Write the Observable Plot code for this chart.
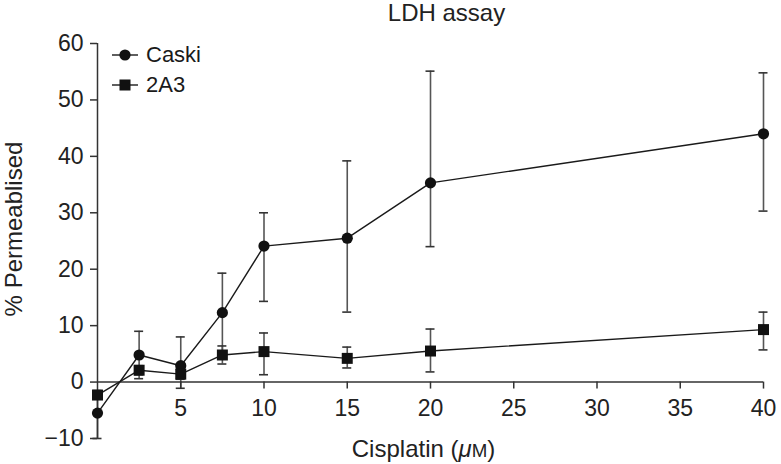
<!DOCTYPE html>
<html><head><meta charset="utf-8">
<script src="https://cdn.jsdelivr.net/npm/d3@7"></script>
<script src="https://cdn.jsdelivr.net/npm/@observablehq/plot@0.6"></script>
<style>
html,body{margin:0;padding:0;background:#fff;}
#chart{position:relative;width:781px;height:464px;font-family:"Liberation Sans",Arial,sans-serif;}
#legend{position:absolute;left:112px;top:40px;font-size:22px;color:#1a1a1a;}
.row{display:flex;align-items:center;height:30px;}
.row svg{margin-right:8px;}
</style></head><body><div id="chart"></div>
<script>
const doses = [0, 2.5, 5, 7.5, 10, 15, 20, 40];
const caskiMean = [-5.5, 4.8, 2.9, 12.3, 24.1, 25.5, 35.3, 44.0];
const caskiLow  = [-10.0, 0.6, -1.1, 5.3, 14.3, 12.4, 24.0, 30.3];
const caskiHigh = [-1.5, 9.0, 8.0, 19.3, 30.0, 39.2, 55.1, 54.8];
const a3Mean = [-2.3, 2.1, 1.4, 4.8, 5.4, 4.2, 5.5, 9.3];
const a3Low  = [-3.0, 1.3, 0.5, 3.2, 1.3, 2.5, 1.8, 5.7];
const a3High = [-1.6, 2.9, 2.3, 6.4, 8.7, 6.2, 9.4, 12.4];
const seriesNames = ["Caski", "2A3"];
const xTicks = [5, 10, 15, 20, 25, 30, 35, 40];
const yTicks = [-10, 0, 10, 20, 30, 40, 50, 60];
const title = "LDH assay";
const xLabel = "Cisplatin (μM)";
const yLabel = "% Permeablised";

const data = [];
doses.forEach((d, i) => {
  data.push({series: seriesNames[0], dose: d, mean: caskiMean[i], lo: caskiLow[i], hi: caskiHigh[i]});
  data.push({series: seriesNames[1], dose: d, mean: a3Mean[i], lo: a3Low[i], hi: a3High[i]});
});
const caski = data.filter(d => d.series === "Caski");
const a3 = data.filter(d => d.series === "2A3");

const axisColor = "#333";
const errColor = "#555";

const plot = Plot.plot({
  width: 781,
  height: 464,
  marginLeft: 97,
  marginRight: 18,
  marginTop: 43,
  marginBottom: 26,
  style: {fontFamily: '"Liberation Sans", Arial, sans-serif', color: "#222", background: "#fff"},
  x: {domain: [0, 40], axis: null},
  y: {domain: [-10, 60]},
  marks: [
    // error bars
    Plot.ruleX(data, {x: "dose", y1: "lo", y2: "hi", stroke: errColor, strokeWidth: 1.6}),
    Plot.ruleY(data, {y: "lo", x1: "dose", x2: "dose", insetLeft: -4.5, insetRight: -4.5, stroke: "#333", strokeWidth: 1.6}),
    Plot.ruleY(data, {y: "hi", x1: "dose", x2: "dose", insetLeft: -4.5, insetRight: -4.5, stroke: "#333", strokeWidth: 1.6}),
    // axes
    Plot.ruleX([0], {y1: -10, y2: 60, stroke: axisColor, strokeWidth: 1.5}),
    Plot.ruleY([0], {x1: 0, x2: 40, stroke: axisColor, strokeWidth: 1.5}),
    Plot.ruleX(xTicks, {x: d => d, y1: 0, y2: 0, insetTop: 7, stroke: axisColor, strokeWidth: 1.5}),
    Plot.text(xTicks, {x: d => d, y: () => 0, text: d => String(d), dy: 27, lineAnchor: "middle", fontSize: 23, fill: "#222"}),
    Plot.axisY({ticks: yTicks, tickSize: 7, tickPadding: 7, fontSize: 23, label: null, stroke: axisColor, strokeWidth: 1.5, fill: "#222"}),
    // lines
    Plot.line(caski, {x: "dose", y: "mean", stroke: "#1a1a1a", strokeWidth: 1.4}),
    Plot.line(a3, {x: "dose", y: "mean", stroke: "#1a1a1a", strokeWidth: 1.4}),
    // markers
    Plot.dot(caski, {x: "dose", y: "mean", r: 5.6, fill: "#111", symbol: "circle"}),
    Plot.dot(a3, {x: "dose", y: "mean", r: 6.2, fill: "#111", symbol: "square"}),
    // texts
    Plot.text([title], {text: d => d, frameAnchor: "top", dx: 16, dy: -23, lineAnchor: "bottom", fontSize: 24, fill: "#222"}),
    Plot.text([xLabel], {text: d => d, frameAnchor: "bottom", dx: -7, dy: 18, lineAnchor: "bottom", fontSize: 24, fill: "#222"}),
    Plot.text([yLabel], {text: d => d, frameAnchor: "left", textAnchor: "middle", rotate: -90, dx: -83, dy: -12, lineAnchor: "middle", fontSize: 24, fill: "#222"})
  ]
});

// style the unit: italic mu and small-cap M
d3.select(plot).selectAll("text").filter(function() { return this.textContent === xLabel; }).each(function() {
  const t = d3.select(this);
  t.text(null);
  t.append("tspan").text("Cisplatin (");
  t.append("tspan").attr("font-style", "italic").text("μ");
  t.append("tspan").attr("font-size", "0.78em").text("M");
  t.append("tspan").text(")");
});

const chart = document.getElementById("chart");
chart.appendChild(plot);

// legend
const legend = document.createElement("div");
legend.id = "legend";
legend.innerHTML = seriesNames.map((name, i) => `
  <div class="row">
    <svg width="26" height="14" viewBox="0 0 26 14">
      <line x1="0" y1="7" x2="26" y2="7" stroke="#1a1a1a" stroke-width="1.4"/>
      ${i === 0 ? '<circle cx="13" cy="7" r="5.6" fill="#111"/>' : '<rect x="7.5" y="1.5" width="11" height="11" fill="#111"/>'}
    </svg><span>${name}</span>
  </div>`).join("");
chart.appendChild(legend);
</script>
</body></html>
